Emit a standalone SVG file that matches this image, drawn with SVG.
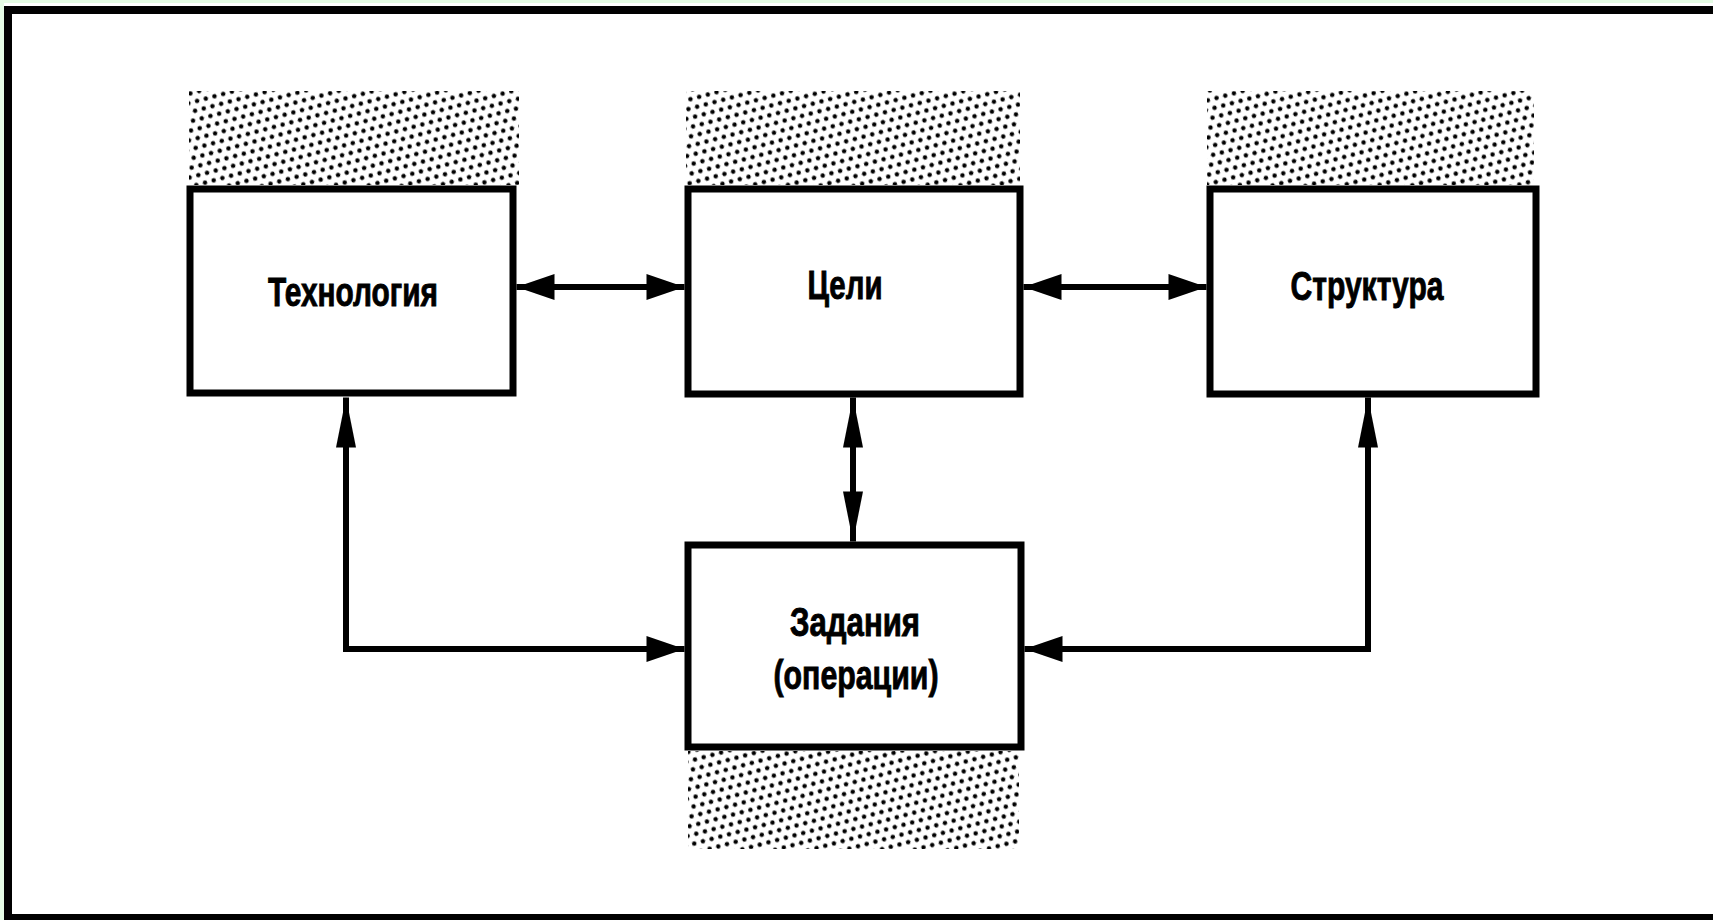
<svg xmlns="http://www.w3.org/2000/svg" width="1713" height="920" viewBox="0 0 1713 920">
  <style>
    .box { fill: #ffffff; stroke: #000000; stroke-width: 7; }
    .hatch { fill: url(#dots); }
    .label { font-family: "Liberation Sans", Arial, sans-serif; font-weight: bold; font-size: 40px; fill: #000000; stroke: #000000; stroke-width: 0.9; text-anchor: middle; }
    .wire { fill: none; stroke: #000000; stroke-width: 6; stroke-linejoin: miter; }
    .wire-h { marker-start: url(#headH); marker-end: url(#headH); }
    .wire-v { marker-start: url(#headV); marker-end: url(#headV); }
  </style>
  <defs>
    <!-- stippled fill for the zones outside the boxes -->
    <pattern id="dots" width="9" height="18" patternUnits="userSpaceOnUse" patternTransform="rotate(-15)">
      <circle cx="2.25" cy="4.5" r="2.2" fill="#000000"/>
      <circle cx="6.75" cy="13.5" r="2.2" fill="#000000"/>
    </pattern>
    <!-- short wide arrowhead for horizontal runs -->
    <marker id="headH" markerUnits="userSpaceOnUse" markerWidth="1" markerHeight="1" refX="0" refY="0" orient="auto-start-reverse" overflow="visible">
      <path d="M-38,-13 L0,0 L-38,13 Z" fill="#000000"/>
    </marker>
    <!-- long narrow arrowhead for vertical runs -->
    <marker id="headV" markerUnits="userSpaceOnUse" markerWidth="1" markerHeight="1" refX="0" refY="0" orient="auto-start-reverse" overflow="visible">
      <path d="M-50,-10 L0,0 L-50,10 Z" fill="#000000"/>
    </marker>
  </defs>

  <!-- page background and frame -->
  <rect x="0" y="0" width="1713" height="920" fill="#e4fbe4"/>
  <rect x="4" y="3" width="1709" height="917" fill="#ffffff"/>
  <rect x="8" y="10" width="1712" height="908" fill="none" stroke="#000000" stroke-width="8"/>

  <!-- stippled zones -->
  <g id="zones">
    <rect class="hatch" x="189" y="91" width="330" height="94"/>
    <rect class="hatch" x="686" y="91" width="334" height="94"/>
    <rect class="hatch" x="1207" y="91" width="327" height="94"/>
    <rect class="hatch" x="688" y="751" width="331" height="98"/>
  </g>

  <!-- connectors -->
  <g id="connectors">
    <path class="wire wire-h" d="M516.5,287 L684.5,287"/>
    <path class="wire wire-h" d="M1023.5,287 L1206.5,287"/>
    <path class="wire wire-v" d="M853,397.5 L853,541.5"/>
    <path class="wire" d="M346,397.5 L346,649 L684.5,649" marker-start="url(#headV)" marker-end="url(#headH)"/>
    <path class="wire" d="M1368,397.5 L1368,649 L1024.5,649" marker-start="url(#headV)" marker-end="url(#headH)"/>
  </g>

  <g id="node-technology">
    <rect class="box" x="190" y="189" width="323" height="204"/>
    <text class="label" x="353" y="306" textLength="170" lengthAdjust="spacingAndGlyphs">Технология</text>
  </g>

  <g id="node-goals">
    <rect class="box" x="688" y="189" width="332" height="205"/>
    <text class="label" x="845" y="299" textLength="75" lengthAdjust="spacingAndGlyphs">Цели</text>
  </g>

  <g id="node-structure">
    <rect class="box" x="1210" y="189" width="326" height="205"/>
    <text class="label" x="1367" y="300" textLength="153" lengthAdjust="spacingAndGlyphs">Структура</text>
  </g>

  <g id="node-tasks">
    <rect class="box" x="688" y="545" width="333" height="202"/>
    <text class="label" x="855" y="636" textLength="130" lengthAdjust="spacingAndGlyphs">Задания</text>
    <text class="label" x="856" y="689" textLength="165" lengthAdjust="spacingAndGlyphs">(операции)</text>
  </g>
</svg>
